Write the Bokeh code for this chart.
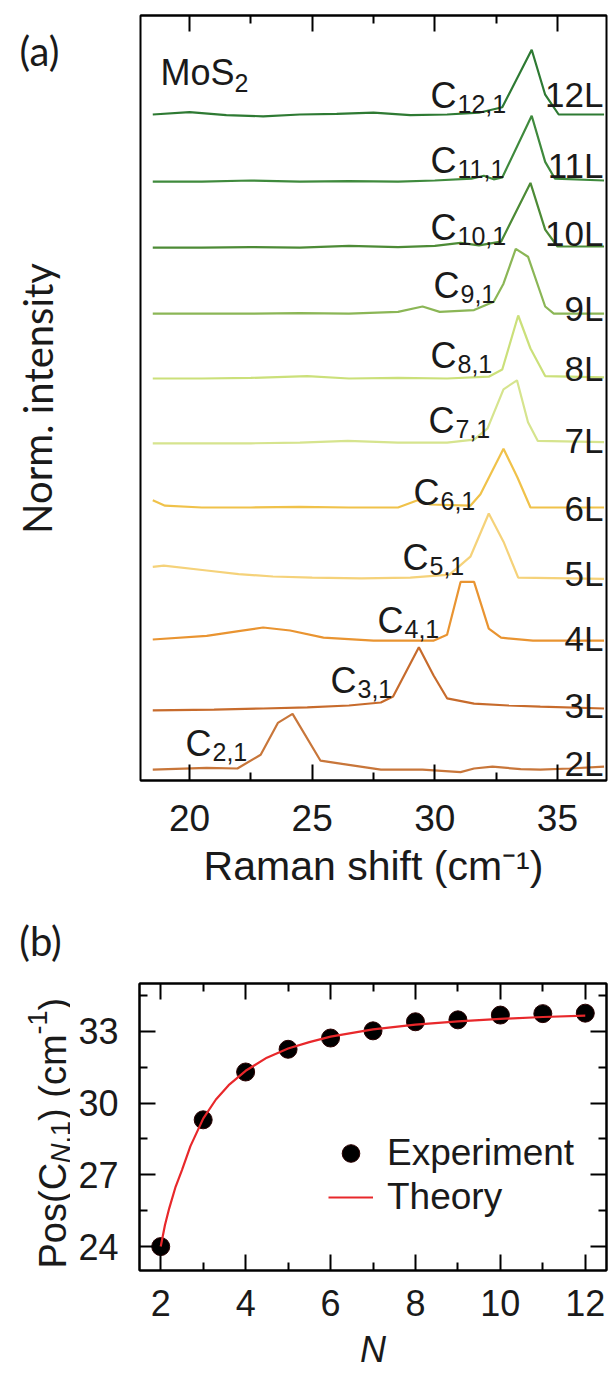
from bokeh.plotting import figure
from bokeh.models import Range1d, LinearAxis, FixedTicker, Label, Legend, LegendItem
from bokeh.layouts import column, row
from bokeh.embed import file_html
from bokeh.resources import INLINE

# ---------------- data: panel (a) Raman spectra ----------------
layers = ["2L", "3L", "4L", "5L", "6L", "7L", "8L", "9L", "10L", "11L", "12L"]
sub_labels = ["2,1", "3,1", "4,1", "5,1", "6,1", "7,1", "8,1", "9,1", "10,1", "11,1", "12,1"]
offsets = [0.18, 1.2, 2.33, 3.38, 4.55, 5.62, 6.7, 7.78, 8.88, 9.98, 11.1]
x_ticks_a = [20, 25, 30, 35]
x_minor_a = [22.5, 27.5, 32.5]

x_2L = [18.5, 20.7, 21.95, 22.9, 23.6, 24.2, 25.34, 26.15, 27.8, 29.5, 31.05, 31.6, 32.35, 33.5, 34.3, 35.5, 36.9]
i_2L = [0.0, 0.03, 0.02, 0.25, 0.78, 0.93, 0.15, 0.1, 0.0, 0.0, -0.04, 0.02, 0.05, 0.01, 0.0, 0.02, 0.05]
x_3L = [18.5, 21.0, 23.0, 24.8, 26.5, 27.8, 28.3, 29.35, 29.95, 30.5, 31.6, 33.0, 34.3, 36.9]
i_3L = [-0.03, -0.02, 0.0, 0.02, 0.05, 0.1, 0.2, 1.02, 0.55, 0.17, 0.08, 0.05, 0.03, 0.0]
x_4L = [18.5, 20.7, 22.0, 23.0, 24.1, 25.46, 27.5, 29.94, 30.5, 31.05, 31.6, 32.2, 32.7, 34.0, 36.9]
i_4L = [0.02, 0.08, 0.16, 0.22, 0.17, 0.05, 0.0, 0.0, 0.1, 0.98, 0.98, 0.2, 0.05, 0.0, 0.0]
x_5L = [18.5, 18.95, 20.7, 22.0, 23.4, 25.0, 27.0, 29.0, 30.6, 31.45, 32.2, 32.8, 33.4, 36.9]
i_5L = [0.18, 0.2, 0.12, 0.06, 0.02, 0.0, -0.01, 0.0, 0.05, 0.35, 1.07, 0.6, 0.0, -0.02]
x_6L = [18.5, 19.0, 20.5, 22.5, 24.5, 26.5, 28.5, 29.3, 29.8, 31.45, 31.86, 32.8, 33.37, 33.9, 36.9]
i_6L = [0.12, 0.03, 0.0, 0.0, 0.01, 0.0, 0.0, 0.12, 0.05, 0.03, 0.22, 0.98, 0.5, 0.0, 0.0]
x_7L = [18.5, 20.5, 22.5, 24.5, 26.45, 28.5, 30.5, 31.6, 32.15, 32.8, 33.35, 33.8, 34.2, 36.9]
i_7L = [0.0, 0.0, 0.0, 0.01, 0.04, 0.01, 0.01, 0.06, 0.25, 0.9, 1.05, 0.35, 0.04, 0.02]
x_8L = [18.5, 20.5, 22.5, 24.8, 26.5, 28.5, 30.5, 32.2, 32.75, 33.4, 33.9, 34.5, 36.9]
i_8L = [0.0, 0.0, 0.01, 0.04, 0.0, 0.01, 0.0, 0.03, 0.15, 1.05, 0.5, 0.04, 0.02]
x_9L = [18.5, 20.5, 22.5, 24.5, 26.5, 28.5, 29.5, 30.2, 31.6, 32.4, 32.8, 33.3, 33.8, 34.5, 34.85, 36.9]
i_9L = [0.0, 0.0, 0.0, 0.01, 0.0, 0.03, 0.12, 0.03, 0.06, 0.2, 0.5, 1.08, 0.95, 0.12, 0.0, 0.0]
x_10L = [18.5, 20.5, 22.5, 24.5, 26.5, 28.5, 30.0, 31.05, 31.8, 32.7, 33.9, 34.5, 35.0, 36.9]
i_10L = [0.0, 0.0, 0.01, 0.0, 0.03, 0.01, 0.03, 0.08, 0.04, 0.1, 1.08, 0.3, 0.02, 0.02]
x_11L = [18.5, 20.5, 22.5, 24.5, 26.5, 28.5, 30.0, 31.5, 32.0, 32.4, 32.75, 33.95, 34.5, 34.9, 36.9]
i_11L = [0.0, 0.0, 0.02, 0.0, 0.01, 0.0, 0.02, 0.05, 0.1, 0.04, 0.07, 1.1, 0.33, 0.05, 0.02]
x_12L = [18.5, 20.0, 21.5, 23.0, 24.5, 26.0, 27.5, 29.0, 30.5, 31.8, 32.75, 33.95, 34.5, 35.05, 36.9]
i_12L = [0.0, 0.04, -0.01, -0.03, 0.0, 0.01, 0.03, -0.01, 0.0, 0.03, 0.12, 1.08, 0.33, 0.0, 0.0]

# ---------------- data: panel (b) peak positions ----------------
N_exp = [2, 3, 4, 5, 6, 7, 8, 9, 10, 11, 12]
pos_exp = [24.0, 29.3, 31.3, 32.25, 32.72, 33.02, 33.4, 33.48, 33.68, 33.74, 33.76]
N_theory = [2.0, 2.1, 2.2, 2.35, 2.5, 2.7, 3.0, 3.3, 3.6, 4.0, 4.5, 5.0, 5.5, 6.0, 7.0, 8.0, 9.0, 10.0, 11.0, 12.0]
pos_theory = [24.0, 24.9, 25.6, 26.5, 27.2, 28.2, 29.35, 30.15, 30.75, 31.35, 31.9, 32.28, 32.55, 32.78,
              33.08, 33.28, 33.42, 33.52, 33.6, 33.66]
x_ticks_b = [2, 4, 6, 8, 10, 12]
x_minor_b = [3, 5, 7, 9, 11]
y_ticks_b = [24, 27, 30, 33]
y_minor_b = [25.5, 28.5, 31.5, 34.5]

# ---------------- styles ----------------
colors = ["#c8763a", "#c76b2c", "#e99431", "#f5d27a", "#f0c24a", "#d6e48e",
          "#cbe07a", "#8bb656", "#4d8b36", "#3f8a3d", "#2e7a33"]
TXT = "#1a1a1a"
SANS = "Liberation Sans"
R90 = 1.5707963
spectra = [(x_2L, i_2L), (x_3L, i_3L), (x_4L, i_4L), (x_5L, i_5L), (x_6L, i_6L), (x_7L, i_7L),
           (x_8L, i_8L), (x_9L, i_9L), (x_10L, i_10L), (x_11L, i_11L), (x_12L, i_12L)]

# label layout (pixel positions on the page)
c_left_px = [185, 330, 377, 402, 413, 428, 430, 433, 430, 430, 430]
c_base_px = [743, 680, 620, 557, 492, 420, 355, 285, 227, 160, 95]
l_base_px = [763, 705, 638, 573, 508, 440, 368, 308, 233, 165, 94]


def style_axis(ax, ticks, minor, show_labels=True, size="36px", standoff=18):
    ax.ticker = FixedTicker(ticks=ticks, minor_ticks=minor)
    ax.major_tick_in = 16
    ax.major_tick_out = 0
    ax.minor_tick_in = 8
    ax.minor_tick_out = 0
    ax.axis_line_width = 2
    ax.axis_line_color = "black"
    ax.major_tick_line_width = 2
    ax.minor_tick_line_width = 2
    ax.major_tick_line_color = "black"
    ax.minor_tick_line_color = "black"
    if show_labels:
        ax.major_label_text_font = SANS
        ax.major_label_text_font_size = size
        ax.major_label_text_color = TXT
        ax.major_label_standoff = standoff
    else:
        ax.major_label_text_font_size = "1px"
        ax.major_label_text_color = None
        ax.major_label_standoff = 0


def add_label(fig, x, y, text, size, font=SANS, align="left", baseline="alphabetic", angle=0.0, style="normal"):
    fig.add_layout(Label(x=x, y=y, text=text, text_font=font, text_font_size=size, text_align=align,
                         text_baseline=baseline, angle=angle, text_font_style=style, text_color=TXT))


def blank(w, h):
    f = figure(width=w, height=h, x_range=Range1d(0, w), y_range=Range1d(0, h), output_backend="svg",
               toolbar_location=None, x_axis_location=None, y_axis_location=None, frame_align=False,
               title=None,
               min_border=0, min_border_left=0, min_border_right=0, min_border_top=0, min_border_bottom=0)
    f.grid.visible = False
    f.outline_line_color = None
    f.background_fill_color = "white"
    f.border_fill_color = "white"
    return f


# ================= panel (a) =================
XA0, XA1, YA1 = 18, 37, 12.75
HA = 915
pa = figure(width=470, height=HA, x_range=Range1d(XA0, XA1), y_range=Range1d(0, YA1),
            output_backend="svg", toolbar_location=None, y_axis_location=None, frame_align=False,
            title=None,
            min_border_left=2, min_border_right=2, min_border_top=15, min_border_bottom=HA - 780)
pa.background_fill_color = "white"
pa.border_fill_color = "white"
pa.outline_line_color = "black"
pa.outline_line_width = 2
pa.grid.visible = False
style_axis(pa.xaxis[0], x_ticks_a, x_minor_a, True, "37px", 24)
pa.xaxis[0].axis_label = "Raman shift (cm\u207b\u00b9)"
pa.xaxis[0].axis_label_text_font = SANS
pa.xaxis[0].axis_label_text_font_size = "41px"
pa.xaxis[0].axis_label_text_font_style = "normal"
pa.xaxis[0].axis_label_text_color = TXT
pa.xaxis[0].axis_label_standoff = 9
top_a = LinearAxis()
pa.add_layout(top_a, "above")
style_axis(top_a, x_ticks_a, x_minor_a, False)


def ax_(px):
    return XA0 + (px - 140) * (XA1 - XA0) / 466


def ay_(py):
    return (780 - py) * YA1 / 765


for (xs, ys), off, col in zip(spectra, offsets, colors):
    pa.line(xs, [v + off for v in ys], line_color=col, line_width=2.2)

for k in range(len(layers)):
    add_label(pa, ax_(c_left_px[k]), ay_(c_base_px[k]), "C", "36px")
    add_label(pa, ax_(c_left_px[k] + 27), ay_(c_base_px[k] + 8), sub_labels[k], "25px")
    add_label(pa, ax_(603), ay_(l_base_px[k]), layers[k], "35px", align="right")

add_label(pa, ax_(160), ay_(72), "MoS", "36px")
add_label(pa, ax_(234), ay_(82), "2", "25px")

# left strip for panel (a): "(a)" and y title
strip_a = blank(138, HA)
add_label(strip_a, 39, HA - 50, "(a)", "40px", font="Lato", align="center", baseline="middle")
add_label(strip_a, 37, HA - 398, "Norm. intensity", "40px", font="Lato", align="center",
          baseline="middle", angle=R90)

# ================= panel (b) =================
XB0, XB1, YB0, YB1 = 1.5, 12.5, 23, 35
Y0B = HA
HB = 1374 - Y0B
WSB = 70
pb = figure(width=608 - WSB, height=HB, x_range=Range1d(XB0, XB1), y_range=Range1d(YB0, YB1),
            output_backend="svg", toolbar_location=None, frame_align=False, title=None,
            min_border_left=139 - WSB, min_border_right=2, min_border_top=983 - Y0B,
            min_border_bottom=1374 - 1270)
pb.background_fill_color = "white"
pb.border_fill_color = "white"
pb.outline_line_color = "black"
pb.outline_line_width = 2
pb.grid.visible = False
style_axis(pb.xaxis[0], x_ticks_b, x_minor_b, True, "36px", 19)
pb.xaxis[0].axis_label = "N"
pb.xaxis[0].axis_label_text_font = SANS
pb.xaxis[0].axis_label_text_font_size = "36px"
pb.xaxis[0].axis_label_text_font_style = "italic"
pb.xaxis[0].axis_label_text_color = TXT
pb.xaxis[0].axis_label_standoff = 10
style_axis(pb.yaxis[0], y_ticks_b, y_minor_b, True, "36px", 21)
top_b = LinearAxis()
pb.add_layout(top_b, "above")
style_axis(top_b, x_ticks_b, x_minor_b, False)
right_b = LinearAxis()
pb.add_layout(right_b, "right")
style_axis(right_b, y_ticks_b, y_minor_b, False)

sc = pb.scatter(N_exp, pos_exp, size=18, fill_color="black", line_color="#2a0000", line_width=1)
ln = pb.line(N_theory, pos_theory, line_color="#e8282b", line_width=2.2)

leg = Legend(items=[LegendItem(label="Experiment", renderers=[sc]), LegendItem(label="Theory", renderers=[ln])],
             location=(189, 51), glyph_width=45, glyph_height=44, label_height=44, label_standoff=14,
             spacing=0, padding=0, margin=0, border_line_color=None, background_fill_alpha=0,
             label_text_font=SANS, label_text_font_size="37px", label_text_color=TXT)
pb.add_layout(leg)

# left strip for panel (b): "(b)" and rotated y title Pos(C_{N,1}) (cm^-1)
strip_b = blank(WSB, HB)
T = 1374
add_label(strip_b, 40, T - 940, "(b)", "40px", font="Lato", align="center", baseline="middle")
add_label(strip_b, 52, T - 1268, "Pos(C", "38px", angle=R90)
add_label(strip_b, 60, T - 1162.4, "N", "27px", angle=R90, style="italic")
add_label(strip_b, 60, T - 1142.9, ",1", "27px", angle=R90)
add_label(strip_b, 52, T - 1120.4, ") (cm", "38px", angle=R90)
add_label(strip_b, 37, T - 1033.9, "-1", "27px", angle=R90)
add_label(strip_b, 52, T - 1009.9, ")", "38px", angle=R90)

layout = column(row(strip_a, pa, spacing=0), row(strip_b, pb, spacing=0), spacing=0)
open("out.html", "w").write(file_html(layout, INLINE))
